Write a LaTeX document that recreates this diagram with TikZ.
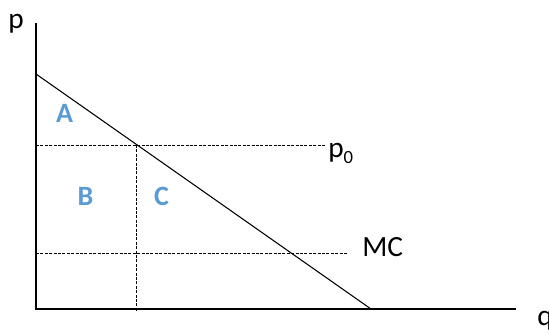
\documentclass[tikz,border=0pt]{standalone}
\usepackage{fontspec}
\setmainfont{Carlito}
\definecolor{areablue}{HTML}{5B9BD5}
\tikzset{
  axis/.style={line width=0.8pt},
  guide/.style={line width=0.6pt, dash pattern=on 2.2pt off 1.1pt},
  lbl/.style={inner sep=0pt, anchor=base west, font=\fontsize{22}{26}\selectfont},
  area/.style={inner sep=0pt, anchor=base, text=areablue, font=\fontsize{21}{25}\selectfont\bfseries},
}
\begin{document}
\begin{tikzpicture}[x=0.75pt, y=-0.75pt]
  \useasboundingbox (0,0) rectangle (549,333);

  \coordinate (O)    at (36,309);
  \coordinate (ytop) at (36,23);
  \coordinate (xend) at (516,309);
  \coordinate (dtop) at (36,74);
  \coordinate (dbot) at (371,309);
  \coordinate (pl)   at (36,145);
  \coordinate (pr)   at (325,145);
  \coordinate (qa)   at (136,145);
  \coordinate (qb)   at (136,312);
  \coordinate (ml)   at (36,253);
  \coordinate (mr)   at (347,253);

  \node[lbl] (plab)  at (8,28)    {p};
  \node[lbl] (qlab)  at (537,325) {q};
  \node[lbl] (p0lab) at (328,157) {p\raisebox{-4.5pt}{\fontsize{14}{14}\selectfont 0}};
  \node[lbl] (mclab) at (362,256) {MC};

  \node[area] (A) at (64.5,122)  {A};
  \node[area] (B) at (85.5,205)  {B};
  \node[area] (C) at (161.5,205) {C};

  \draw[axis] (ytop) -- (O) -- (xend);
  \draw[axis] (dtop) -- (dbot);
  \draw[guide] (pl) -- (pr);
  \draw[guide] (qa) -- (qb);
  \draw[guide] (ml) -- (mr);
\end{tikzpicture}
\end{document}
